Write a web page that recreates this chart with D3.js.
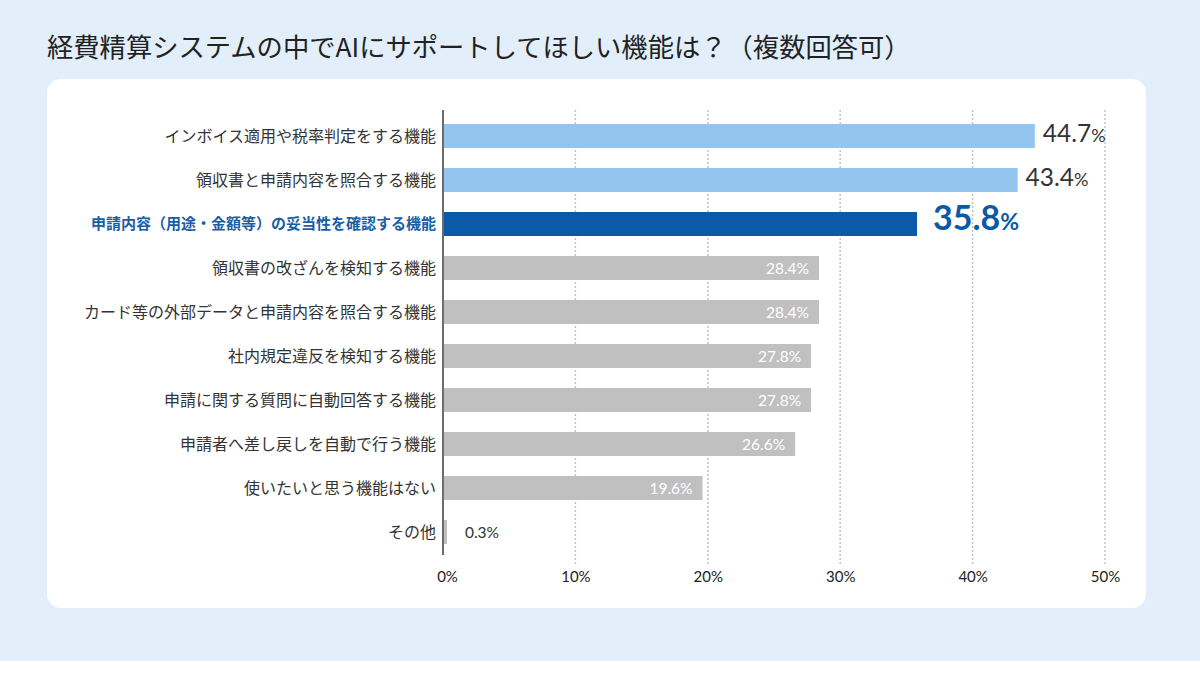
<!DOCTYPE html>
<html>
<head>
<meta charset="utf-8">
<script src="https://cdn.jsdelivr.net/npm/d3@7"></script>
<style>
  body { margin: 0; background: #fff; }
  svg { display: block; }
</style>
</head>
<body>
<div id="chart"></div>
<script>
// data
const categories = [
  "インボイス適用や税率判定をする機能",
  "領収書と申請内容を照合する機能",
  "申請内容（用途・金額等）の妥当性を確認する機能",
  "領収書の改ざんを検知する機能",
  "カード等の外部データと申請内容を照合する機能",
  "社内規定違反を検知する機能",
  "申請に関する質問に自動回答する機能",
  "申請者へ差し戻しを自動で行う機能",
  "使いたいと思う機能はない",
  "その他"
];
const values = [44.7, 43.4, 35.8, 28.4, 28.4, 27.8, 27.8, 26.6, 19.6, 0.3];
const tickValues = [0, 10, 20, 30, 40, 50];
const title = "経費精算システムの中でAIにサポートしてほしい機能は？（複数回答可）";

const svgWidth = 1200;
const svgHeight = 691;

const margin = { top: 114, right: 95, bottom: 136, left: 443 };

const jp = "'Noto Sans CJK JP', 'Noto Sans', sans-serif";
const num = "Lato, 'Noto Sans', sans-serif";

const svg = d3.select("#chart")
  .append("svg")
  .attr("width", svgWidth)
  .attr("height", svgHeight);

// background + card
svg.append("rect")
  .attr("width", svgWidth)
  .attr("height", 661)
  .attr("fill", "#e2effb");

svg.append("rect")
  .attr("x", 47).attr("y", 79)
  .attr("width", 1099).attr("height", 529)
  .attr("rx", 14)
  .attr("fill", "#fff");

svg.append("text")
  .attr("x", 47).attr("y", 57)
  .attr("font-family", jp)
  .attr("font-size", 26.3)
  .attr("fill", "#222")
  .text(title);

const chartGroup = svg.append("g")
  .attr("transform", `translate(${margin.left}, ${margin.top})`);

const xScale = d3.scaleLinear()
  .domain([0, 50])
  .range([0, 662]);

const yScale = d3.scaleBand()
  .domain(categories)
  .range([0, 440])
  .paddingInner(0.4545)
  .paddingOuter(0.2273);

// gridlines
chartGroup.selectAll(".grid")
  .data(tickValues.slice(1))
  .enter()
  .append("line")
  .attr("x1", d => xScale(d))
  .attr("x2", d => xScale(d))
  .attr("y1", -4)
  .attr("y2", 451)
  .attr("stroke", "#c4c4c4")
  .attr("stroke-width", 1.5)
  .attr("stroke-dasharray", "2,2");

// x axis labels
const xAxis = d3.axisBottom(xScale)
  .tickValues(tickValues)
  .tickFormat(d => d + "%")
  .tickSize(0)
  .tickPadding(0);

const xAxisG = chartGroup.append("g")
  .attr("transform", `translate(0, 457)`)
  .call(xAxis);
xAxisG.select(".domain").remove();
xAxisG.selectAll("text")
  .attr("font-family", num)
  .attr("font-size", 15)
  .attr("fill", "#222")
  .attr("dx", d => d === 0 ? 4 : 0);

const colorFor = i => i < 2 ? "#93c5ef" : i === 2 ? "#0b5aa8" : "#c0c0c0";

// bars
chartGroup.selectAll(".bar")
  .data(values)
  .enter()
  .append("rect")
  .attr("x", 0)
  .attr("y", (d, i) => yScale(categories[i]))
  .attr("width", d => xScale(d))
  .attr("height", yScale.bandwidth())
  .attr("fill", (d, i) => colorFor(i));

// axis line
chartGroup.append("line")
  .attr("x1", 0).attr("x2", 0)
  .attr("y1", -4).attr("y2", 441)
  .attr("stroke", "#6b6b6b")
  .attr("stroke-width", 2);

// category labels
chartGroup.selectAll(".cat")
  .data(categories)
  .enter()
  .append("text")
  .attr("x", -7)
  .attr("y", d => yScale(d) + yScale.bandwidth() / 2)
  .attr("dy", "0.35em")
  .attr("text-anchor", "end")
  .attr("font-family", jp)
  .attr("font-size", (d, i) => i === 2 ? 15 : 16)
  .attr("font-weight", (d, i) => i === 2 ? 700 : 400)
  .attr("fill", (d, i) => i === 2 ? "#1a5ea6" : "#333")
  .text(d => d);

// value labels
const labels = chartGroup.selectAll(".val")
  .data(values)
  .enter()
  .append("text")
  .attr("y", (d, i) => yScale(categories[i]) + yScale.bandwidth() / 2)
  .attr("dy", "0.36em")
  .attr("font-family", num);

labels.each(function (d, i) {
  const t = d3.select(this);
  if (i < 2) {
    t.attr("x", xScale(d) + 8).attr("fill", "#333");
    t.append("tspan").attr("font-size", 24.5).text(d.toFixed(1));
    t.append("tspan").attr("font-size", 18).text("%");
  } else if (i === 2) {
    t.attr("x", xScale(d) + 16).attr("fill", "#0b5aa8").attr("font-weight", 700);
    t.append("tspan").attr("font-size", 34).text(d.toFixed(1));
    t.append("tspan").attr("font-size", 23).text("%");
  } else if (d < 5) {
    t.attr("x", xScale(d) + 18).attr("fill", "#333").attr("font-size", 15.5)
      .text(d.toFixed(1) + "%");
  } else {
    t.attr("x", xScale(d) - 10).attr("text-anchor", "end")
      .attr("fill", "#fff").attr("font-size", 15.5)
      .text(d.toFixed(1) + "%");
  }
});
</script>
</body>
</html>
